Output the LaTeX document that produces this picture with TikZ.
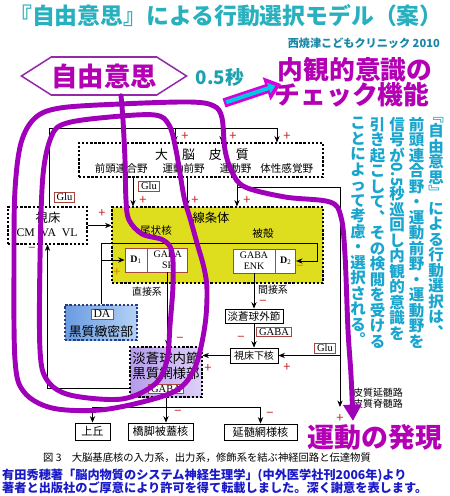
\documentclass[tikz,border=0pt]{standalone}
\usepackage{fontspec}
\setmainfont{Noto Sans CJK JP}
\newfontfamily\serifl{Liberation Serif}
\usetikzlibrary{arrows.meta, positioning, shapes.symbols}
\definecolor{ttl}{RGB}{40,176,190}
\definecolor{subc}{RGB}{25,135,165}
\definecolor{tatec}{RGB}{25,165,205}
\definecolor{tealc}{RGB}{30,160,175}
\definecolor{magt}{RGB}{180,0,180}
\definecolor{purp}{RGB}{160,0,185}
\definecolor{hexc}{RGB}{150,40,170}
\definecolor{arrm}{RGB}{215,0,215}
\definecolor{arrc}{RGB}{0,200,230}
\definecolor{credb}{RGB}{25,25,200}
\definecolor{pmred}{RGB}{200,35,35}
\definecolor{pmorg}{RGB}{240,120,0}
\definecolor{lblred}{RGB}{165,70,65}
\definecolor{stry}{RGB}{222,222,30}
\definecolor{dab}{RGB}{40,60,130}
\definecolor{dal}{RGB}{105,155,225}
\definecolor{dar}{RGB}{180,210,245}
\definecolor{gpl}{RGB}{180,155,235}
\definecolor{gpr}{RGB}{222,208,248}
\newlength\pxu
\setlength\pxu{0.03cm}
\newcommand\fsz[1]{\fontsize{#1}{#1}\selectfont}
\def\vtextend{VTEND}
\def\vtextgo#1{\ifx\vtextend#1\else\hbox to 17\pxu{\hss#1\hss}\expandafter\vtextgo\fi}
\newcommand\vtext[1]{\vbox{\baselineskip=15.5\pxu\lineskiplimit=0pt\lineskip=0pt\vtextgo#1\vtextend}}

\begin{document}
\begin{tikzpicture}[x=0.03cm, y=-0.03cm,
  dbox/.style={draw, dash pattern=on 2pt off 1.5pt, line width=0.9pt},
  sbox/.style={draw, line width=0.7pt, fill=white, font=\fsz{9.5}, inner sep=0pt},
  cell/.style={draw=lblred, line width=0.6pt, fill=white, minimum height=24\pxu, inner sep=0pt,
               align=center, font=\serifl\fontsize{8.5}{9.5}\selectfont},
  lbl/.style={draw=lblred, line width=0.5pt, fill=white, inner xsep=2pt, inner ysep=1pt, font=\serifl\fsz{9}},
  arr/.style={-{Stealth[length=5.5pt, width=4.5pt]}, line width=0.7pt},
  pm/.style={inner sep=0pt, font=\fsz{11}},
  vcol/.style={anchor=north, inner sep=0pt, text=tatec, font=\bfseries\fsz{13.2}},
  hexa/.style={signal, signal to=west and east, signal pointer angle=65, draw=hexc, line width=1.3pt,
               fill=white, text=magt, font=\bfseries\fsz{22.5}, minimum width=158\pxu, minimum height=38\pxu, inner sep=0pt},
  pline/.style={draw=purp, line width=4.2pt, line cap=round, line join=round}
]
\useasboundingbox (0,0) rectangle (450,496);

\node[font=\bfseries\fsz{19.5}, text=ttl] (title) at (226,16) {『自由意思』による行動選択モデル（案）};
\node[font=\bfseries\fsz{9.5}, text=subc, anchor=east] (sub) at (444,43) {西焼津こどもクリニック 2010};
\node[hexa] (will) at (104,76) {自由意思};
\node[font=\bfseries\fsz{16}, text=tealc] (sec) at (220,77) {0.5秒};
\node[font=\bfseries\fsz{22}, text=magt] (intro1) at (355,70) {内観的意識の};
\node[font=\bfseries\fsz{22}, text=magt] (intro2) at (352,95) {チェック機能};
\coordinate (fa1) at (224,103);
\coordinate (fa2) at (281,84);
\draw[draw=arrm, line width=8pt, -{Triangle[length=13pt, width=20pt]}] (fa1) -- (fa2);
\draw[draw=arrc, line width=3.5pt, shorten >=5pt, shorten <=2pt, -{Triangle[length=6pt, width=9pt]}] (fa1) -- (fa2);

\node[vcol] (col1) at (436,117) {\vtext{﹃自由意思﹄による行動選択は︑}};
\node[vcol] (col2) at (416.5,117) {\vtext{前頭連合野・運動前野・運動野を}};
\node[vcol] (col3) at (397,117) {\vtext{信号が{\rotatebox[origin=c]{-90}{0.5}}秒巡回し内観的意識を}};
\node[vcol] (col4) at (377.5,117) {\vtext{引き起こして︑その検閲を受ける}};
\node[vcol] (col5) at (358,117) {\vtext{ことによって考慮・選択される︒}};

\node[dbox, minimum width=244\pxu, minimum height=34\pxu] (ctx) at (201,160) {};
\node[font=\fsz{11}] (ctxt) at (202,155) {大\hspace{14\pxu}脳\hspace{14\pxu}皮\hspace{14\pxu}質};
\node[font=\fsz{9}] (ctxs) at (204,168) {前頭連合野\hspace{15\pxu}運動前野\hspace{15\pxu}運動野\hspace{9\pxu}体性感覚野};

\node[dbox, minimum width=79\pxu, minimum height=37\pxu] (thal) at (47.5,225.5) {};
\node[font=\fsz{10.5}] (thalt) at (48,218) {視床};
\node[font=\serifl\fsz{10}] (thals) at (47,233) {CM\enspace VA\enspace VL};

\node[dbox, fill=stry, minimum width=211\pxu, minimum height=76\pxu] (str) at (217.5,245) {};
\node[font=\fsz{10.5}] (strt) at (211,218) {線条体};
\node[font=\fsz{9}] (cau) at (156,230) {尾状核};
\node[font=\fsz{9}] (put) at (263,233) {被殻};
\node[cell, minimum width=22\pxu] (d1) at (136,260) {\textbf{D}\textsubscript{1}};
\node[cell, minimum width=40\pxu, right=0pt of d1] (sp) {GABA\\SP};
\node[cell, minimum width=42\pxu] (enk) at (254,261) {GABA\\ENK};
\node[cell, minimum width=20\pxu, right=0pt of enk] (d2) {\textbf{D}\textsubscript{2}};

\node[dbox, draw=dab, left color=dal, right color=dar, minimum width=72\pxu, minimum height=35\pxu] (da) at (101,322.5) {};
\node[lbl, font=\serifl\fsz{10}] (dalbl) at (102,314) {DA};
\node[font=\fsz{11}] (dat) at (101,332) {黒質緻密部};

\node[dbox, left color=gpl, right color=gpr, minimum width=72\pxu, minimum height=50\pxu] (gpi) at (166,372) {};
\node[font=\fsz{11.5}] (gpia) at (166,358) {淡蒼球内節};
\node[font=\fsz{11.5}] (gpib) at (166,373) {黒質網様部};
\node[lbl] (gaba2) at (166,389) {GABA};

\node[sbox, minimum width=58\pxu, minimum height=14\pxu, font=\fsz{9}] (gpe) at (254,316) {淡蒼球外節};
\node[sbox, minimum width=48\pxu, minimum height=15\pxu, font=\fsz{8.5}] (stn) at (254,355.5) {視床下核};
\node[sbox, minimum width=35\pxu, minimum height=17\pxu] (sc) at (92.5,431.5) {上丘};
\node[sbox, minimum width=65\pxu, minimum height=17\pxu] (ppn) at (160.5,431.5) {橋脚被蓋核};
\node[sbox, minimum width=73\pxu, minimum height=16\pxu] (rf) at (260.5,432) {延髄網様核};

\node[lbl] (glu1) at (64.5,197) {Glu};
\node[lbl] (glu2) at (149,186) {Glu};
\node[lbl] (glu3) at (325,348) {Glu};
\node[lbl] (gaba1) at (274,332) {GABA};
\node[font=\fsz{8.5}] (dirl) at (147,292) {直接系};
\node[font=\fsz{8.5}] (indl) at (273,290) {間接系};
\node[font=\fontsize{8.5}{9.5}\selectfont, align=left] (cstl) at (378,398) {皮質延髄路\\皮質脊髄路};

\coordinate (thtop) at (277,128);
\coordinate (brk) at (237,187);
\coordinate (cst) at (340,407);
\draw[arr] (thal.north -| 49,0) |- (thtop) -- (ctx.north -| thtop);
\foreach \x in {175,222}
  \draw[arr] (thtop -| \x,0) -- (ctx.north -| \x,0);
\foreach \x in {133,187,237}
  \draw[arr] (ctx.south -| \x,0) -- (str.north -| \x,0);
\draw[arr] (brk) -| (cst);
\draw[arr] (stn -| cst) -- (stn.east);
\draw[arr] (thal.east) -- (thal.east -| str.west);
\draw[arr] (da.north) |- (317,243) |- (d2.east);
\draw[arr] (da.north |- d1.west) -- (d1.west);
\draw[arr] (sp.south) -- (sp.south |- gpi.north);
\draw[arr] (enk.south) -- (enk.south |- gpe.north);
\draw[arr] (gpe) -- (stn);
\draw[arr] (stn) -- (stn -| gpi.east);
\draw[arr] (gpi.south west) ++(0,-9) -| (thal.south);
\draw[arr] (gpi.south) -- (gpi.south |- ppn.north);
\draw[arr] (gpi.south |- 0,407) -| (sc.north);
\draw[arr] (gpi.south |- 0,407) -| (rf.north);

\foreach \x/\y/\s/\c [count=\i] in {185/136/+/pmred, 233/136/+/pmred, 287/136/+/pmred,
    143/200/+/pmred, 195/200/+/pmred, 247/200/+/pmred, 102/213/+/pmred, 117/272/+/pmorg,
    300/268/−/pmorg, 180/340/−/pmred, 263/303/−/pmred, 241/339/−/pmred, 208/368/+/pmred,
    287/367/+/pmred, 32/250/−/pmred, 105/413/−/pmred, 178/413/−/pmred, 270/415/−/pmred,
    340/418/+/pmred}
  \node[pm, text=\c] (pm\i) at (\x,\y) {\s};

\node[font=\bfseries\fsz{23}, text=magt] (motor) at (375,437) {運動の発現};
\node[font=\fsz{8.8}] (cap) at (207,458) {図 3\quad 大脳基底核の入力系，出力系，修飾系を結ぶ神経回路と伝達物質};
\node[font=\bfseries\fsz{10.4}, text=credb, anchor=west, inner sep=0pt] (cred1) at (2,475) {有田秀穂著「脳内物質のシステム神経生理学」(中外医学社刊2006年)より};
\node[font=\bfseries\fsz{10.4}, text=credb, anchor=west, inner sep=0pt] (cred2) at (2,488) {著者と出版社のご厚意により許可を得て転載しました。深く謝意を表します。};

\draw[pline, -{Triangle[length=14pt, width=15pt]}] plot[smooth, tension=0.55] coordinates {
  (will.south -| 121,0) (123,120) (125,160) (126,200) (129,220) (142,234) (163,240) (172,252)
  (173,285) (170,325) (167,360) (155,384) (122,399) (70,395) (47,380) (40,350) (40,260)
  (43,175) (52,135) (67,123) (110,117) (155,115) (169,125) (176,150) (184,197) (190,218)
  (197,243) (204,268) (207,290) (205,325) (196,365) (180,388) (150,400) (100,410) (52,408)
  (24,392) (15,360) (14,260) (15,190) (21,143) (35,118) (60,108) (120,104) (190,102)
  (214,106) (222,118) (225,150) (232,172) (245,187) (285,197) (330,202) (341,217)
  (345,255) (348,330) (351,375) (353,421)};
\end{tikzpicture}
\end{document}
